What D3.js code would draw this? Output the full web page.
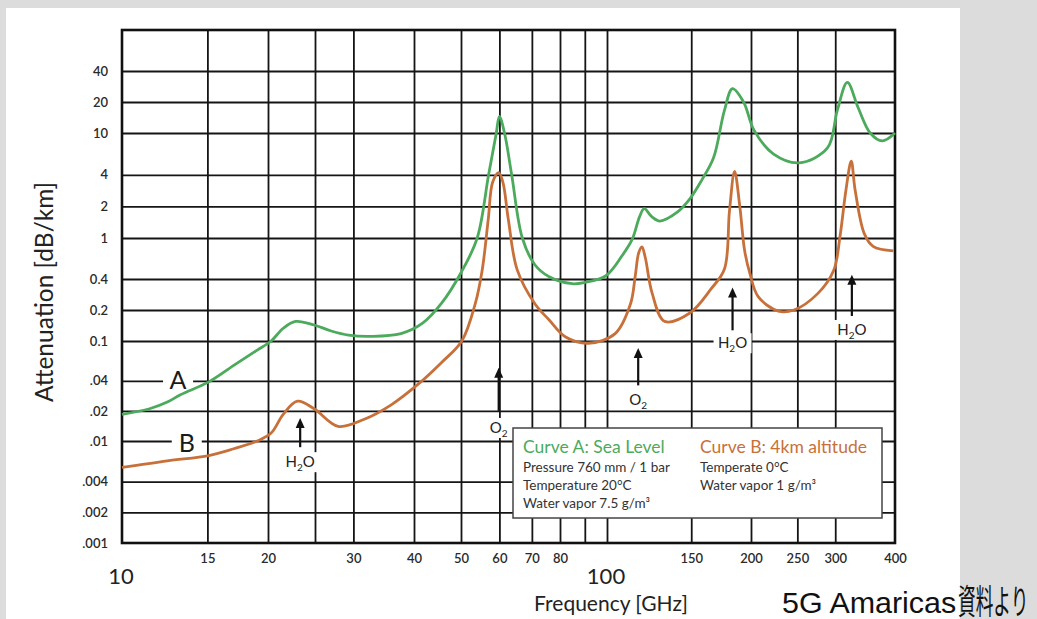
<!DOCTYPE html>
<html>
<head>
<meta charset="utf-8">
<title>Attenuation vs Frequency</title>
<script src="https://d3js.org/d3.v7.min.js"></script>
<style>
  body { margin: 0; background: #dcdcdc; }
  text { font-family: Lato, "Open Sans", sans-serif; }
</style>
</head>
<body>
<div id="chart"></div>
<script>
// --- data (frequency in GHz, attenuation in dB/km) ---
var curveAFreq = [10, 11.4, 12.4, 13.2, 15.1, 17, 19, 20.3, 21.5, 22.8, 24.9, 27, 29.3, 32.7, 37.6, 41.6, 45.6, 50, 54, 57, 59.1, 60,
                  61.5, 63.6, 66.9, 71, 76, 84.7, 90, 99.5, 107.7, 113, 117, 119.6, 124, 129, 140, 149, 158, 167, 176, 183,
                  193, 203, 223, 252, 289, 303, 318, 335, 355, 376, 400];
var curveAVal  = [0.0185, 0.021, 0.0245, 0.029, 0.039, 0.057, 0.081, 0.1, 0.133, 0.155, 0.143, 0.125, 0.114, 0.111, 0.118, 0.148, 0.233, 0.46, 1.0, 4, 9.9, 14.5,
                  9.9, 4, 1.0, 0.55, 0.42, 0.36, 0.37, 0.43, 0.68, 0.98, 1.6, 1.9, 1.6, 1.45, 1.75, 2.36, 3.6, 5.8, 16.6, 27,
                  20, 10.6, 6.3, 5.2, 7.2, 16.6, 31, 17.6, 10, 8.4, 10];

var curveBFreq = [10, 12.4, 15.1, 17, 19, 20.3, 21.5, 23, 24.9, 27.9, 31.6, 35.9, 40.8, 45.6, 50.2, 53.5, 55.3, 56.9, 58.1, 59.8,
                  61, 62.6, 65.3, 71, 76, 82, 91.5, 104, 112, 114.5, 116.5, 118.3, 120.2, 124.3, 132, 149, 165, 176, 180.3, 184.8,
                  189.5, 194, 199, 207, 228, 246, 276, 298, 307, 316, 324, 330, 345, 360, 397];
var curveBVal  = [0.0055, 0.0064, 0.0072, 0.0084, 0.01, 0.012, 0.0185, 0.025, 0.021, 0.014, 0.0165, 0.023, 0.037, 0.061, 0.1, 0.23, 0.49, 1.5, 3.4, 4.2,
                  3.4, 1.5, 0.49, 0.23, 0.16, 0.11, 0.095, 0.118, 0.23, 0.42, 0.72, 0.82, 0.65, 0.29, 0.155, 0.187, 0.32, 0.5, 1.8, 4.3,
                  2.0, 0.75, 0.45, 0.27, 0.195, 0.2, 0.29, 0.49, 1.04, 2.9, 5.4, 2.9, 1.1, 0.83, 0.75];

var xTickVals   = [15, 20, 30, 40, 50, 60, 70, 80, 150, 200, 250, 300, 400];
var xBigTicks   = [10, 100];
var xGridVals   = [15, 20, 25, 30, 40, 50, 60, 70, 80, 90, 100, 150, 200, 250, 300];
var yTickVals   = [40, 20, 10, 4, 2, 1, 0.4, 0.2, 0.1, 0.04, 0.02, 0.01, 0.004, 0.002, 0.001];
var yTickLabels = ["40", "20", "10", "4", "2", "1", "0.4", "0.2", "0.1", ".04", ".02", ".01", ".004", ".002", ".001"];

// absorption line markers: frequency, arrow tip / tail value, label value
var markerFreq  = [23.3, 59.8, 116.2, 183, 325];
var markerTip   = [0.017, 0.054, 0.085, 0.33, 0.44];
var markerTail  = [0.0087, 0.02, 0.036, 0.127, 0.175];
var markerLabel = [0.0062, 0.0135, 0.026, 0.095, 0.128];
var markerGas   = ["H", "O", "O", "H", "H"];   // H -> H2O, O -> O2

var colorA = "#4caa5c", colorB = "#c8703a";

var W = 1037, H = 619;
var svg = d3.select("#chart").append("svg")
    .attr("width", W).attr("height", H);

// white page area, grey surround
svg.append("rect").attr("x", 0).attr("y", 0).attr("width", W).attr("height", H).attr("fill", "#dcdcdc");
svg.append("rect").attr("x", 6).attr("y", 8).attr("width", 954).attr("height", H - 8).attr("fill", "#fff");

// scanned chart is not quite logarithmic, so a piecewise log scale
var x = d3.scaleLog().domain([10, 100, 400]).range([122, 607, 895]);
var y = d3.scaleLog().domain([0.001, 0.01, 0.1, 1, 10, 100]).range([543, 441, 341, 238, 133, 30]);

var plotL = 122, plotR = 895, plotT = 30, plotB = 543;

// grid
svg.append("g")
    .attr("transform", "translate(0," + plotB + ")")
    .call(d3.axisBottom(x).tickValues(xGridVals).tickSize(-(plotB - plotT)).tickFormat(""))
    .call(function (g) {
        g.select(".domain").remove();
        g.selectAll("line").attr("stroke", "#151515").attr("stroke-width", 1.8);
    });
svg.append("g")
    .attr("transform", "translate(" + plotL + ",0)")
    .call(d3.axisLeft(y).tickValues(yTickVals.slice(0, -1)).tickSize(-(plotR - plotL)).tickFormat(""))
    .call(function (g) {
        g.select(".domain").remove();
        g.selectAll("line").attr("stroke", "#151515").attr("stroke-width", 1.8);
    });

// frame
svg.append("rect")
    .attr("x", plotL).attr("y", plotT)
    .attr("width", plotR - plotL).attr("height", plotB - plotT)
    .attr("fill", "none").attr("stroke", "#111").attr("stroke-width", 2.6);

// y tick labels
svg.append("g")
    .attr("transform", "translate(" + (plotL - 4) + ",0)")
    .call(d3.axisLeft(y).tickValues(yTickVals).tickSize(0).tickPadding(10)
        .tickFormat(function (d, i) { return yTickLabels[i]; }))
    .call(function (g) {
        g.select(".domain").remove();
        g.selectAll("text").attr("font-size", 13).attr("fill", "#2a2a2a")
            .attr("font-family", "Lato, sans-serif").attr("font-weight", 600);
    });

// x tick labels
svg.append("g")
    .attr("transform", "translate(0," + plotB + ")")
    .call(d3.axisBottom(x).tickValues(xTickVals).tickSize(0).tickPadding(11)
        .tickFormat(function (d) { return d; }))
    .call(function (g) {
        g.select(".domain").remove();
        g.selectAll("text").attr("font-size", 13).attr("fill", "#2a2a2a")
            .attr("font-family", "Lato, sans-serif").attr("font-weight", 600);
    });
svg.append("g").selectAll("text")
    .data(xBigTicks).join("text")
    .attr("x", function (d) { return x(d) - 1; })
    .attr("y", 584)
    .attr("text-anchor", "middle")
    .attr("font-size", 22).attr("fill", "#222")
    .text(function (d) { return d; });

// axis titles
svg.append("text")
    .attr("transform", "translate(53,292) rotate(-90)")
    .attr("text-anchor", "middle")
    .attr("font-size", 24.5).attr("fill", "#222")
    .text("Attenuation [dB/km]");
svg.append("text")
    .attr("x", 611).attr("y", 611)
    .attr("text-anchor", "middle")
    .attr("font-size", 21).attr("fill", "#222")
    .text("Frequency [GHz]");

// curve labels A / B (break the grid line behind them)
function curveTag(f, v, t) {
    svg.append("rect")
        .attr("x", x(f) - 15).attr("y", y(v) - 14)
        .attr("width", 30).attr("height", 26).attr("fill", "#fff");
    svg.append("text")
        .attr("x", x(f)).attr("y", y(v) + 9)
        .attr("text-anchor", "middle")
        .attr("font-size", 25).attr("fill", "#1a1a1a")
        .text(t);
}
curveTag(13.05, 0.041, "A");
curveTag(13.6, 0.0096, "B");

// curves
var line = d3.line()
    .x(function (d) { return x(d[0]); })
    .y(function (d) { return y(d[1]); })
    .curve(d3.curveCatmullRom.alpha(0.5));

svg.append("path")
    .datum(d3.zip(curveBFreq, curveBVal))
    .attr("d", line)
    .attr("fill", "none").attr("stroke", colorB).attr("stroke-width", 2.8);
svg.append("path")
    .datum(d3.zip(curveAFreq, curveAVal))
    .attr("d", line)
    .attr("fill", "none").attr("stroke", colorA).attr("stroke-width", 2.8);

// arrows + gas labels
var markers = svg.append("g");
markerFreq.forEach(function (f, i) {
    var mx = x(f), yt = y(markerTip[i]), yb = y(markerTail[i]), yl = y(markerLabel[i]);
    markers.append("line")
        .attr("x1", mx).attr("x2", mx).attr("y1", yt + 6).attr("y2", yb)
        .attr("stroke", "#111").attr("stroke-width", 2.2);
    markers.append("path")
        .attr("d", "M" + mx + "," + yt + "L" + (mx - 4.5) + "," + (yt + 10) + "L" + (mx + 4.5) + "," + (yt + 10) + "Z")
        .attr("fill", "#111");
    var isWater = markerGas[i] === "H";
    var bw = isWater ? 38 : 24;
    markers.append("rect")
        .attr("x", mx - bw / 2).attr("y", yl - 10)
        .attr("width", bw).attr("height", 20).attr("fill", "#fff");
    var t = markers.append("text")
        .attr("x", mx).attr("y", yl + 5)
        .attr("text-anchor", "middle")
        .attr("font-size", 15).attr("fill", "#222");
    if (isWater) {
        t.append("tspan").text("H");
        t.append("tspan").attr("font-size", 10).attr("dy", 4).text("2");
        t.append("tspan").attr("dy", -4).text("O");
    } else {
        t.append("tspan").text("O");
        t.append("tspan").attr("font-size", 10).attr("dy", 4).text("2");
    }
});

// legend box
var lg = svg.append("g").attr("transform", "translate(513,428)");
lg.append("rect").attr("width", 369).attr("height", 90)
    .attr("fill", "#fff").attr("stroke", "#444").attr("stroke-width", 1.5);
lg.append("text").attr("x", 10).attr("y", 25).attr("font-size", 17.5).attr("fill", colorA)
    .text("Curve A: Sea Level");
lg.append("text").attr("x", 187).attr("y", 25).attr("font-size", 17.5).attr("fill", colorB)
    .text("Curve B: 4km altitude");
var infoA = ["Pressure 760 mm / 1 bar", "Temperature 20°C", "Water vapor 7.5 g/m³"];
var infoB = ["Temperate 0°C", "Water vapor 1 g/m³"];
lg.selectAll("text.a").data(infoA).join("text").attr("class", "a")
    .attr("x", 10).attr("y", function (d, i) { return 44 + i * 18; })
    .attr("font-size", 13.5).attr("fill", "#333").text(function (d) { return d; });
lg.selectAll("text.b").data(infoB).join("text").attr("class", "b")
    .attr("x", 187).attr("y", function (d, i) { return 44 + i * 18; })
    .attr("font-size", 13.5).attr("fill", "#333").text(function (d) { return d; });

// source note (condensed, as in the source image)
svg.append("text")
    .attr("transform", "translate(782,613) scale(1.05,1)")
    .attr("font-size", 29).attr("fill", "#111")
    .style("font-family", "'Liberation Sans', Arial, sans-serif")
    .text("5G Amaricas");
svg.append("text")
    .attr("transform", "translate(958,614) scale(0.52,1)")
    .attr("font-size", 34).attr("fill", "#111")
    .style("font-family", "'Noto Sans CJK JP', sans-serif")
    .text("資料より");
</script>
</body>
</html>
